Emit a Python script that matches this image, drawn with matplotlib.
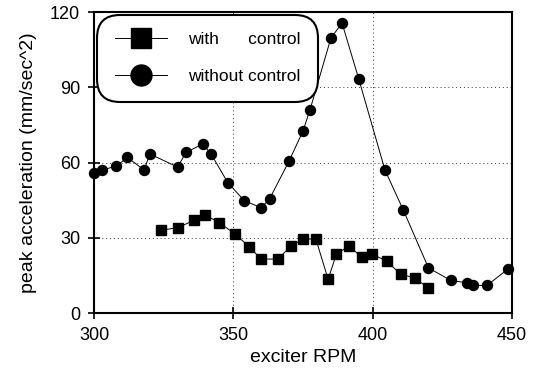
import matplotlib
matplotlib.use("Agg")
import matplotlib.pyplot as plt

plt.rcParams['font.family'] = ['Liberation Sans', 'DejaVu Sans']

# with control (squares)
rpm_with = [324, 330, 336, 340, 345, 350.6, 355.6, 360, 366, 370.7, 375, 379.6,
            384, 387, 391.5, 396, 399.8, 405, 410, 415, 420]
acc_with = [33, 34, 37, 39, 36, 31.5, 26.5, 21.5, 21.5, 26.7, 29.5, 29.5,
            13.5, 23.5, 26.7, 22.3, 23.5, 20.7, 15.5, 14, 10]

# without control (circles)
rpm_without = [300, 303, 308, 312, 318, 320, 330, 333, 339, 342, 348, 354, 360, 363,
               370, 375, 377.5, 385, 389, 395, 404.4, 411, 420, 428, 434, 436, 441, 448.5]
acc_without = [56, 57, 58.6, 62, 57, 63.4, 58.2, 64, 67.4, 63.4, 52, 44.7, 42, 45.5,
               60.6, 72.6, 81, 109.6, 115.6, 93.3, 57, 41, 18, 13, 12, 11, 11, 17.5]

fig = plt.figure(figsize=(5.39, 3.79), dpi=100)
ax = fig.add_axes([0.1744, 0.1741, 0.7756, 0.7942])

ax.plot(rpm_with, acc_with, color='black', lw=0.7, marker='s', ms=6.8,
        label='with      control', clip_on=False, zorder=3)
ax.plot(rpm_without, acc_without, color='black', lw=0.7, marker='o', ms=7.2,
        label='without control', clip_on=False, zorder=3)

ax.set_xlim(300, 450)
ax.set_ylim(0, 120)
ax.set_xticks([300, 350, 400, 450])
ax.set_yticks([0, 30, 60, 90, 120])
ax.grid(True, color='#333333', ls=(0, (1, 3)), lw=0.7)
ax.tick_params(direction='inout', length=8, width=1.2, labelsize=13, colors='black', pad=6)
for s in ax.spines.values():
    s.set_linewidth(1.5)

ax.set_xlabel('exciter RPM', fontsize=14, labelpad=4)
ax.set_ylabel('peak acceleration (mm/sec^2)', fontsize=14, labelpad=9)

leg = ax.legend(loc='upper left', bbox_to_anchor=(0.004, 0.996), fontsize=12.5,
                markerscale=2.1, handlelength=3.0, handletextpad=1.2,
                borderpad=0.8, labelspacing=1.25, fancybox=True, framealpha=1,
                edgecolor='black', borderaxespad=0.3)
leg.get_frame().set_linewidth(1.5)
leg.get_frame().set_boxstyle('round', pad=0.2, rounding_size=1.3)

fig.savefig('out.png', dpi=100)
